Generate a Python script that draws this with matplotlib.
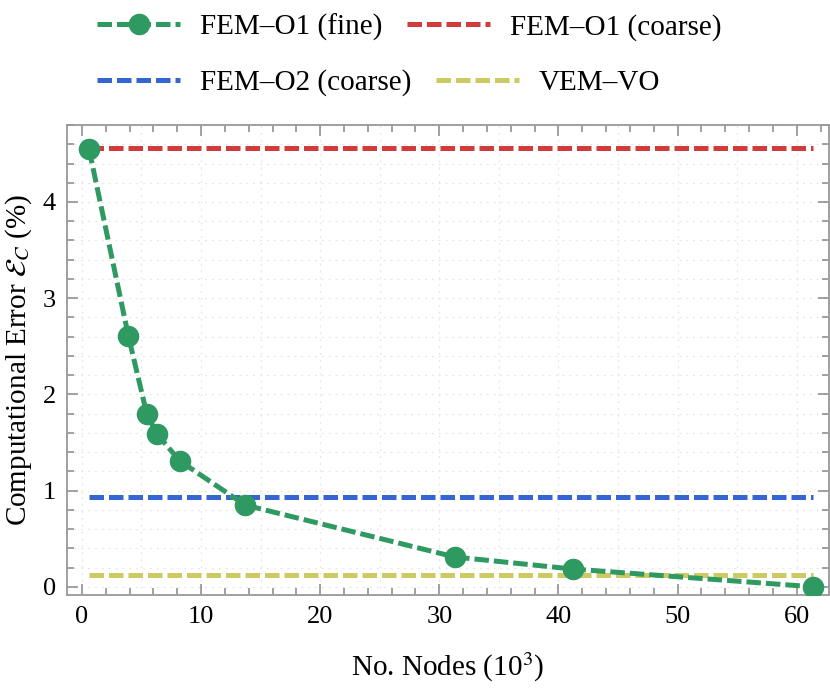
import matplotlib
matplotlib.use("Agg")
import matplotlib.pyplot as plt
import numpy as np
from matplotlib.ticker import MultipleLocator

# données
nodes_k = [0.6, 3.9, 5.45, 6.3, 8.2, 13.7, 31.3, 41.2, 61.4]   # nb noeuds (x 10^3)
err_fine = [4.55, 2.61, 1.795, 1.59, 1.31, 0.85, 0.31, 0.185, 0.0]
err_o1_coarse = 4.56
err_o2_coarse = 0.935
err_vem = 0.12

c_green, c_red, c_blue, c_yellow = '#2e9a62', '#d13b3b', '#3465d0', '#cdca63'

plt.rcParams['font.family'] = ['Liberation Serif', 'DejaVu Serif']
plt.rcParams['mathtext.fontset'] = 'stix'

fig = plt.figure(figsize=(8.3, 6.9), dpi=100)
ax = fig.add_axes([0.0807, 0.1377, 0.918, 0.6811])

lw = 3.6
dash = (2.9, 1.0)
x_ends = [nodes_k[0], nodes_k[-1]]
h_red, = ax.plot(x_ends, [err_o1_coarse] * 2, color=c_red, lw=lw, dashes=dash)
h_blue, = ax.plot(x_ends, [err_o2_coarse] * 2, color=c_blue, lw=lw, dashes=dash)
h_yel, = ax.plot(x_ends, [err_vem] * 2, color=c_yellow, lw=lw, dashes=dash)
h_green, = ax.plot(nodes_k, err_fine, color=c_green, lw=lw, dashes=dash,
                   marker='o', ms=14.5, zorder=5)

ax.set_xlim(-1.25, 62.7)
ax.set_ylim(-0.085, 4.8)

# grille pointillée
for gx in np.arange(0, 61, 5):
    ax.axvline(gx, color='#e6e6e6', lw=0.9, ls=(0, (1.5, 4)), zorder=0)
for gy in np.arange(0, 4.81, 0.2):
    ax.axhline(gy, color='#e6e6e6', lw=0.9, ls=(0, (1.5, 4)), zorder=0)

ax.xaxis.set_major_locator(MultipleLocator(10))
ax.xaxis.set_minor_locator(MultipleLocator(2))
ax.yaxis.set_major_locator(MultipleLocator(1))
ax.yaxis.set_minor_locator(MultipleLocator(0.2))
ax.tick_params(which='both', direction='in', top=True, right=True,
               color='#888888', width=1.1, labelsize=19, pad=8)
ax.tick_params(which='major', length=8)
ax.tick_params(which='minor', length=5)
for s in ax.spines.values():
    s.set_color('#999999')
    s.set_linewidth(1.3)

ax.set_xlabel('No. Nodes (10$^3$)', fontsize=21, labelpad=16)
ax.set_ylabel(r'Computational Error $\mathcal{E}_C$ (%)', fontsize=21, labelpad=6)

leg_kw = dict(frameon=False, fontsize=21, handlelength=2.85, handletextpad=0.68,
              columnspacing=0.85, borderpad=0, borderaxespad=0, ncol=2,
              loc='center left')
fig.legend([h_green, h_red], ['FEM–O1 (fine)', 'FEM–O1 (coarse)'],
           bbox_to_anchor=(97 / 830, 0.961), **leg_kw)
fig.legend([h_blue, h_yel], ['FEM–O2 (coarse)', 'VEM–VO'],
           bbox_to_anchor=(97 / 830, 0.880), **leg_kw)

fig.savefig('out.png', dpi=100)
